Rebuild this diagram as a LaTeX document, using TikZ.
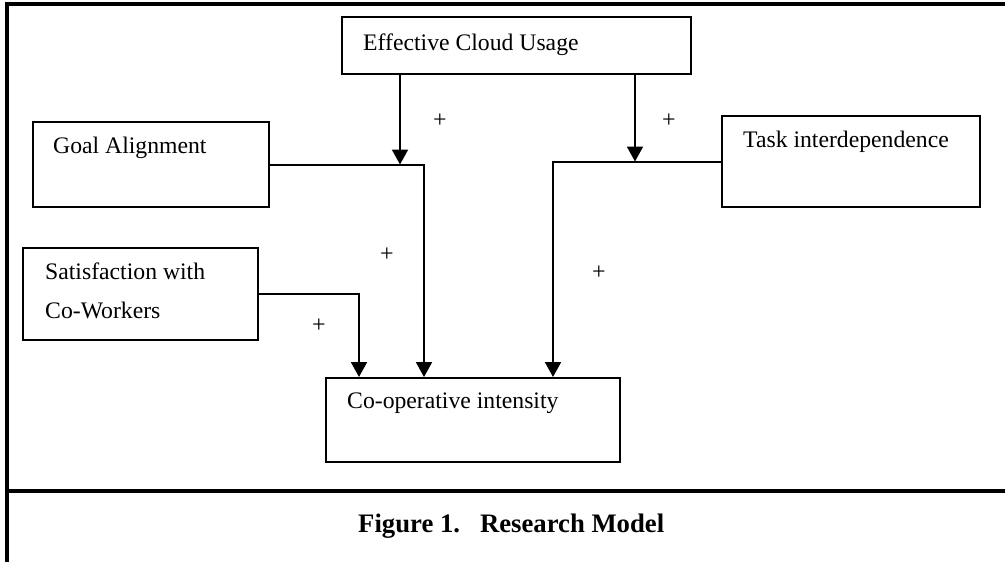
\documentclass[tikz,border=0pt]{standalone}
\usepackage{fontspec}
\setmainfont{Liberation Serif}
\usetikzlibrary{arrows.meta}
\begin{document}
\begin{tikzpicture}[x=1pt,y=-1pt,
  box/.style={draw, line width=2pt, inner sep=0pt},
  lbl/.style={anchor=base west, inner sep=0pt, font=\fontsize{23.7}{28}\selectfont},
  plus/.style={inner sep=0pt, font=\fontsize{24}{28}\selectfont},
  arr/.style={line width=2pt, -{Triangle[length=15pt,width=16pt]}},
  conn/.style={line width=2pt}]
\useasboundingbox (0,0) rectangle (1005,562);
% outer frame
\draw[line width=3.2pt] (7,562) -- (7,4) -- (1005,4);
\draw[line width=3.2pt] (7,491) -- (1005,491);
% boxes
\node[box, minimum width=349pt, minimum height=57pt] (ecu) at (516.5,45.5) {};
\node[box, minimum width=236pt, minimum height=85pt] (ga) at (151,164.5) {};
\node[box, minimum width=235pt, minimum height=92pt] (sat) at (140.5,294) {};
\node[box, minimum width=258pt, minimum height=91pt] (ti) at (851,161.5) {};
\node[box, minimum width=294pt, minimum height=84pt] (ci) at (473,420) {};
% labels
\node[lbl] (tecu) at (363,50) {Effective Cloud Usage};
\node[lbl] (tga) at (53,153) {Goal Alignment};
\node[lbl] (tsat1) at (45,279) {Satisfaction with};
\node[lbl] (tsat2) at (45,318) {Co-Workers};
\node[lbl] (tti) at (743,147) {Task interdependence};
\node[lbl] (tci) at (347,408) {Co-operative intensity};
% connectors
\draw[arr] ([xshift=59pt]ecu.south west) -- ([xshift=59pt]ecu.south west |- ga.east);
\draw[arr] ([xshift=294pt]ecu.south west) -- ([xshift=294pt]ecu.south west |- ti.west);
\draw[arr] (ga.east) -| ([xshift=99pt]ci.north west);
\draw[arr] (ti.west) -| ([xshift=228pt]ci.north west);
\draw[arr] (sat.east) -| ([xshift=34pt]ci.north west);
% plus signs
\node[plus] (p1) at (440,121) {+};
\node[plus] (p2) at (669,121) {+};
\node[plus] (p3) at (387,255) {+};
\node[plus] (p4) at (599,273) {+};
\node[plus] (p5) at (319,326) {+};
% caption
\node[anchor=base west, inner sep=0pt, font=\fontsize{26.7}{32}\selectfont\bfseries] (cap) at (358,532) {Figure 1.\hspace{20pt}Research Model};
\end{tikzpicture}
\end{document}
